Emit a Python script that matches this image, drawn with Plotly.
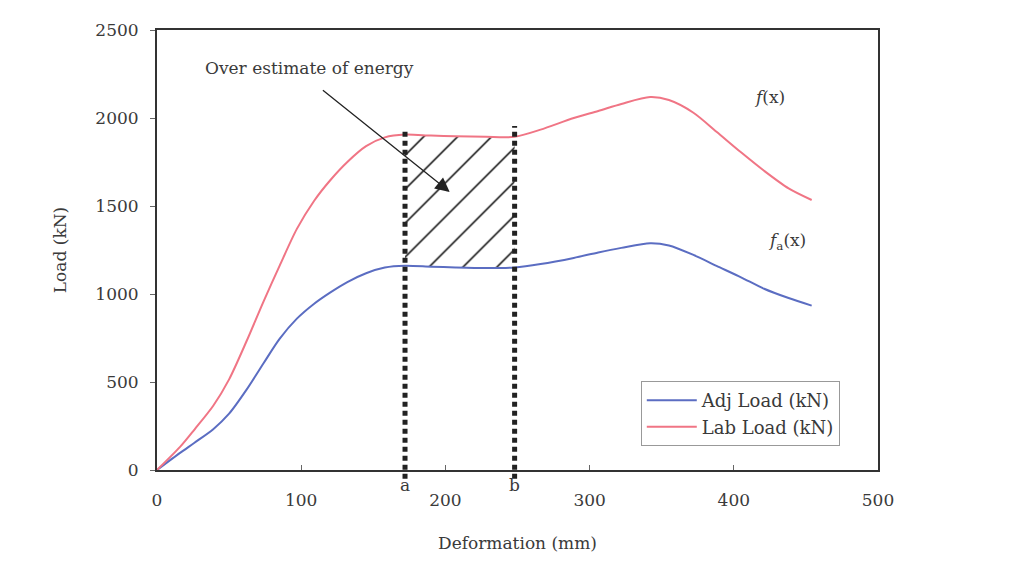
import plotly.graph_objects as go

# Deformation (mm) sample points shared by both curves
deformation = [0, 16, 26, 39, 50, 62, 74, 85, 97, 109, 120, 132, 145, 158, 172, 190, 207, 228, 248,
               266, 289, 306, 322, 342, 355, 372, 388, 405, 421, 438, 454]
lab_load = [0, 131, 230, 365, 515, 730, 960, 1160, 1370, 1530, 1645, 1750, 1840, 1890, 1906, 1900,
            1896, 1893, 1893, 1934, 2000, 2040, 2080, 2119, 2102, 2030, 1922, 1805, 1700, 1600, 1534]
adj_load = [0, 97, 155, 232, 320, 455, 608, 745, 860, 945, 1008, 1068, 1118, 1150, 1160, 1155,
            1151, 1148, 1151, 1170, 1205, 1236, 1262, 1289, 1276, 1222, 1160, 1095, 1030, 977, 934]

# integration limits a and b (mm) and top of their dotted markers (kN)
limit_names = ["a", "b"]
limit_x = [172, 248]
limit_top = [1930, 1955]

x_ticks = [0, 100, 200, 300, 400, 500]
y_ticks = [0, 500, 1000, 1500, 2000, 2500]

BLUE = "#5b6dc2"
RED = "#f07585"
FONT = "DejaVu Serif"
TXT = "#3a3a3a"

fig = go.Figure()

# hatched region between curves for a <= x <= b
sub_idx = [i for i, x in enumerate(deformation) if limit_x[0] <= x <= limit_x[1]]
sx = [deformation[i] for i in sub_idx]
fig.add_trace(go.Scatter(x=sx, y=[adj_load[i] for i in sub_idx], mode="lines",
                         line=dict(width=0, shape="spline", smoothing=0.8),
                         showlegend=False, hoverinfo="skip"))
fig.add_trace(go.Scatter(x=sx, y=[lab_load[i] for i in sub_idx], mode="lines",
                         line=dict(width=0, shape="spline", smoothing=0.8),
                         fill="tonexty", fillcolor="rgba(0,0,0,0)",
                         fillpattern=dict(shape="/", size=24, solidity=0.06, fgopacity=1,
                                          fgcolor="#000000", bgcolor="rgba(255,255,255,0)"),
                         showlegend=False, hoverinfo="skip"))

fig.add_trace(go.Scatter(x=deformation, y=adj_load, mode="lines", name="Adj Load (kN)",
                         legendgroup="adj",
                         line=dict(color=BLUE, width=2, shape="spline", smoothing=0.8)))
fig.add_trace(go.Scatter(x=deformation, y=lab_load, mode="lines", name="Lab Load (kN)",
                         legendgroup="lab",
                         line=dict(color=RED, width=2, shape="spline", smoothing=0.8)))

ymax = y_ticks[-1]
for name, lx, top in zip(limit_names, limit_x, limit_top):
    fig.add_shape(type="line", xref="x", yref="paper", x0=lx, x1=lx,
                  y0=-0.02, y1=top / ymax,
                  line=dict(color="#222222", width=5, dash="5px,4px"))
    fig.add_annotation(x=lx, y=0, xref="x", yref="paper", text=name, showarrow=False,
                       yanchor="top", yshift=-3, font=dict(family=FONT, size=17, color=TXT))

# arrow annotation
fig.add_annotation(x=203, y=1580, ax=114, ay=2165, xref="x", yref="y", axref="x", ayref="y",
                   text="", showarrow=True, arrowhead=2, arrowsize=2.2, arrowwidth=1.3,
                   arrowcolor="#222222")
fig.add_annotation(x=106, y=2285, xref="x", yref="y", text="Over estimate of energy",
                   showarrow=False, font=dict(family=FONT, size=17, color=TXT))
fig.add_annotation(x=425, y=2122, xref="x", yref="y", text="<i>f</i>(x)",
                   showarrow=False, font=dict(family=FONT, size=17, color=TXT))
fig.add_annotation(x=437, y=1300, xref="x", yref="y", text="<i>f</i><sub>a</sub>(x)",
                   showarrow=False, font=dict(family=FONT, size=17, color=TXT))

fig.update_layout(
    width=1025, height=574,
    margin=dict(l=149, r=155, t=22, b=112),
    paper_bgcolor="white", plot_bgcolor="white",
    font=dict(family=FONT, size=17, color=TXT),
    legend=dict(x=0.671, y=0.202, xanchor="left", yanchor="top",
                bgcolor="white", bordercolor="#999", borderwidth=1,
                font=dict(family=FONT, size=18, color=TXT),
                traceorder="normal", tracegroupgap=8, itemwidth=50),
    xaxis=dict(range=[0, 500], tickvals=x_ticks, showgrid=False, zeroline=False,
               showline=True, linecolor="#333", linewidth=2, mirror=True,
               ticks="inside", ticklen=5, tickcolor="#666", ticklabelstandoff=14,
               title=dict(text="Deformation (mm)", standoff=28,
                          font=dict(family=FONT, size=17, color=TXT)),
               tickfont=dict(family=FONT, size=17, color=TXT)),
    yaxis=dict(range=[0, 2500], tickvals=y_ticks, showgrid=False, zeroline=False,
               showline=True, linecolor="#333", linewidth=2, mirror=True,
               ticks="outside", ticklen=5, tickcolor="#666", ticklabelstandoff=8,
               title=dict(text="Load (kN)", standoff=24,
                          font=dict(family=FONT, size=17, color=TXT)),
               tickfont=dict(family=FONT, size=17, color=TXT)),
)

fig.write_html("out.html")
